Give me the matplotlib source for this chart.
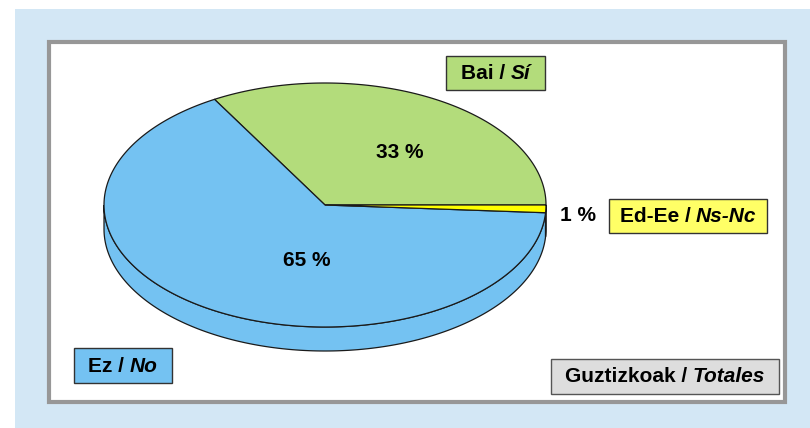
import numpy as np
import matplotlib
matplotlib.use("Agg")
import matplotlib.pyplot as plt
from matplotlib.patches import Polygon, Rectangle

# ---- data ----
categories = ["Bai / Sí", "Ez / No", "Ed-Ee / Ns-Nc"]
values = [33, 65, 1]
slice_colors = ["#B3DC7B", "#74C2F2", "#FFFF00"]
pct_labels = [f"{v} %" for v in values]
title_parts = [("Guztizkoak / ", "normal"), ("Totales", "italic")]
legend_parts = [
    [("Bai / ", "normal"), ("Sí", "italic")],
    [("Ez / ", "normal"), ("No", "italic")],
    [("Ed-Ee / ", "normal"), ("Ns-Nc", "italic")],
]
legend_box_colors = ["#B3DC7B", "#74C2F2", "#FFFF66"]

W, H = 810, 428
fig = plt.figure(figsize=(W / 100, H / 100), dpi=100)
ax = fig.add_axes([0, 0, 1, 1])
ax.set_xlim(0, W)
ax.set_ylim(H, 0)
ax.axis("off")
FONT = "Liberation Sans"
FS = 15

# backgrounds
ax.add_patch(Rectangle((15, 9), W - 15, H - 9, facecolor="#D3E7F5", edgecolor="none", zorder=0))
ax.add_patch(Rectangle((49, 41.5), 736, 360, facecolor="white", edgecolor="#979797", lw=3, zorder=1))

# ---- 3D pie ----
cx, cy, rx, ry, depth = 325, 205, 221, 122, 24
total = sum(values)
angles = np.cumsum([0] + [v / total * 360 for v in values])


def pt(theta_deg, dz=0.0):
    t = np.radians(theta_deg)
    return cx + rx * np.cos(t), cy - ry * np.sin(t) + dz


edge = "#1a1a1a"
# sides (front half: 180..360)
for i in range(len(values)):
    a0, a1 = angles[i], angles[i + 1]
    s0, s1 = max(a0, 180), min(a1, 360)
    if s1 <= s0:
        continue
    th = np.linspace(s0, s1, 200)
    top = [pt(t) for t in th]
    bot = [pt(t, depth) for t in th[::-1]]
    ax.add_patch(Polygon(top + bot, closed=True, facecolor=slice_colors[i],
                         edgecolor=edge, lw=0.9, zorder=3))

# top faces
for i in range(len(values)):
    a0, a1 = angles[i], angles[i + 1]
    th = np.linspace(a0, a1, 300)
    pts = [(cx, cy)] + [pt(t) for t in th]
    ax.add_patch(Polygon(pts, closed=True, facecolor=slice_colors[i],
                         edgecolor=edge, lw=0.9, zorder=4))

# percentage labels
pct_pos = [(400, 153), (307, 260), (578, 215)]
for (x, y), s in zip(pct_pos, pct_labels):
    ax.text(x, y, s, ha="center", va="center", fontsize=FS, fontweight="bold",
            family=FONT, zorder=6)

# ---- label boxes ----
renderer = fig.canvas.get_renderer()


def boxed(parts, center, box, fc, ec="#333333"):
    x0, y0, x1, y1 = box
    ax.add_patch(Rectangle((x0, y0), x1 - x0, y1 - y0, facecolor=fc, edgecolor=ec,
                           lw=1.0, zorder=5))
    texts = []
    for s, st in parts:
        t = ax.text(0, center[1], s, ha="left", va="center", fontsize=FS,
                    fontweight="bold", style=st, family=FONT, zorder=6)
        texts.append(t)
    widths = [t.get_window_extent(renderer).width for t in texts]
    x = center[0] - sum(widths) / 2
    for t, w in zip(texts, widths):
        t.set_x(x)
        x += w


boxes = [(446, 56, 545, 90), (74, 348, 172, 383), (609, 199, 767, 233)]
for parts, b, c in zip(legend_parts, boxes, legend_box_colors):
    boxed(parts, ((b[0] + b[2]) / 2, (b[1] + b[3]) / 2 + 0.5), b, c)

boxed(title_parts, (665, 376.5), (551, 359, 779, 394), "#DDDDDD", ec="#555555")

fig.savefig("out.png", dpi=100)
